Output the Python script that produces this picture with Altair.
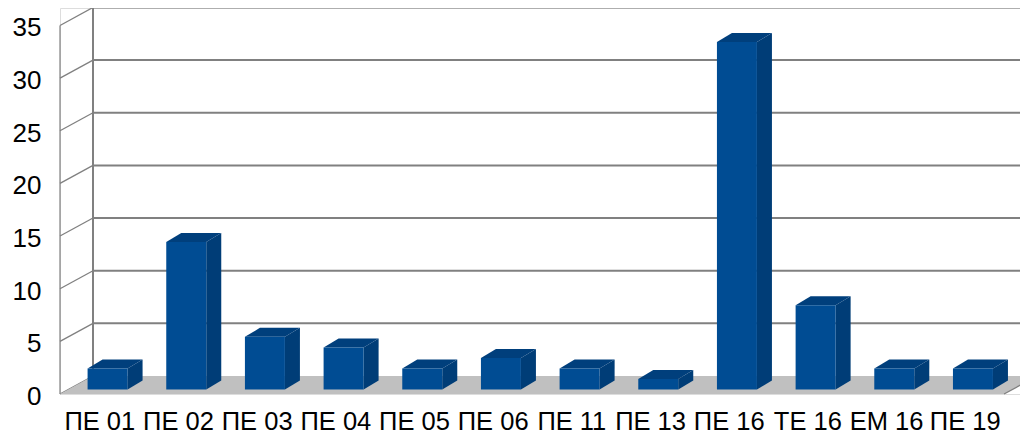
import altair as alt
import pandas as pd

categories = ["ПЕ 01", "ПЕ 02", "ПЕ 03", "ПЕ 04", "ПЕ 05", "ПЕ 06",
              "ПЕ 11", "ПЕ 13", "ПЕ 16", "ТЕ 16", "ЕМ 16", "ПЕ 19"]
values = [2, 14, 5, 4, 2, 3, 2, 1, 33, 8, 2, 2]
y_ticks = [0, 5, 10, 15, 20, 25, 30, 35]

# pseudo-3D projection: depth 0..1 shifts a point right and up, in data units
UX = 78.67   # px per category
UY = 10.53   # px per value unit
DX = 33 / UX
DY = 18 / UY
BAR_W = 40 / UX
BAR_DX = 15 / UX
BAR_DY = 9 / UY
D0 = 0.25
N = len(categories)

FRONT, SIDE, TOP = "#004C93", "#003D77", "#003F7C"
GRID = "#808080"
FONT = "Liberation Sans"
PLOT_W, PLOT_H = 960, 386

xs = alt.Scale(domain=[0, PLOT_W / UX], nice=False, zero=False)
ys = alt.Scale(domain=[0, PLOT_H / UY], nice=False, zero=False)

label_js = "[" + ",".join(f"'{c}'" for c in categories) + "]"
x_axis = alt.Axis(values=[i + 0.5 for i in range(N)], labelExpr=f"{label_js}[floor(datum.value)]",
                  title=None, domain=False, ticks=False, grid=False, labelFontSize=25.5,
                  labelFont=FONT, labelColor="#000000", labelPadding=15, labelOverlap=False,
                  labelFlush=False, labelBound=False)
y_axis = alt.Axis(values=y_ticks, title=None, domain=False, ticks=False, grid=False,
                  labelFontSize=26, labelFont=FONT, labelColor="#000000", labelPadding=19,
                  labelOffset=2.5, labelBound=False, labelOverlap=False)


def X():
    return alt.X("x:Q", scale=xs, axis=x_axis)


def Y():
    return alt.Y("y:Q", scale=ys, axis=y_axis)


# walls
back_grid = pd.DataFrame([{"x": DX, "x2": N + DX, "y": v + DY} for v in y_ticks if v > 0])
side_grid = pd.DataFrame([{"g": v, "x": dd * DX, "y": v + dd * DY} for v in y_ticks for dd in (0, 1)])
left_front = pd.DataFrame([{"x": 0, "y": 0, "y2": y_ticks[-1]}])
left_back = pd.DataFrame([{"x": DX, "y": DY, "y2": y_ticks[-1] + DY}])
floor = pd.DataFrame([
    {"x": 0, "y": 0, "y2": 0},
    {"x": DX, "y": DY, "y2": 0},
    {"x": N, "y": DY, "y2": 0},
    {"x": N + DX, "y": DY, "y2": DY},
])
floor_edge = pd.DataFrame([{"x": N + dd * DX, "y": dd * DY} for dd in (0, 1)])

# bars
front, side, top = [], [], []
for i, (c, v) in enumerate(zip(categories, values)):
    x0 = i + 0.5 - BAR_W / 2 + D0 * DX
    x1 = x0 + BAR_W
    y0 = D0 * DY
    front.append({"c": c, "v": v, "x": x0, "x2": x1, "y": y0, "y2": y0 + v})
    side.append({"c": c, "x": x1, "y": y0 + v, "y2": y0})
    side.append({"c": c, "x": x1 + BAR_DX, "y": y0 + v + BAR_DY, "y2": y0 + BAR_DY})
    top.append({"c": c, "x": x0, "y": y0 + v, "y2": y0 + v})
    top.append({"c": c, "x": x0 + BAR_DX, "y": y0 + v + BAR_DY, "y2": y0 + v})
    top.append({"c": c, "x": x1, "y": y0 + v + BAR_DY, "y2": y0 + v})
    top.append({"c": c, "x": x1 + BAR_DX, "y": y0 + v + BAR_DY, "y2": y0 + v + BAR_DY})

layers = [
    alt.Chart(left_front).mark_rule(color=GRID, strokeWidth=1.2).encode(
        x=X(), y=Y(), y2="y2:Q"),
    alt.Chart(left_back).mark_rule(color=GRID, strokeWidth=2).encode(x=X(), y=Y(), y2="y2:Q"),
    alt.Chart(back_grid).mark_rule(color=GRID, strokeWidth=2).encode(x=X(), x2="x2:Q", y=Y()),
    alt.Chart(side_grid).mark_line(color=GRID, strokeWidth=1.3).encode(x=X(), y=Y(), detail="g:N"),
    alt.Chart(floor).mark_area(color="#C0C0C0", orient="vertical", opacity=1).encode(
        x=X(), y=Y(), y2="y2:Q"),
    alt.Chart(floor_edge).mark_line(color=GRID, strokeWidth=1.3).encode(x=X(), y=Y()),
    alt.Chart(pd.DataFrame(side)).mark_area(color=SIDE, orient="vertical", opacity=1).encode(
        x=X(), y=Y(), y2="y2:Q", detail="c:N"),
    alt.Chart(pd.DataFrame(top)).mark_area(color=TOP, orient="vertical", opacity=1).encode(
        x=X(), y=Y(), y2="y2:Q", detail="c:N"),
    alt.Chart(pd.DataFrame(front)).mark_bar(color=FRONT, opacity=1, cornerRadius=0).encode(
        x=X(), x2="x2:Q", y=Y(), y2="y2:Q"),
]

chart = (
    alt.layer(*layers)
    .properties(width=PLOT_W, height=PLOT_H,
                autosize=alt.AutoSizeParams(type="none"),
                padding={"left": 52, "top": 0, "right": 0, "bottom": 42})
    .configure_view(stroke=None)
    .configure(background="#FFFFFF")
)

chart.save("out.html", embed_options={"renderer": "svg", "actions": False})
